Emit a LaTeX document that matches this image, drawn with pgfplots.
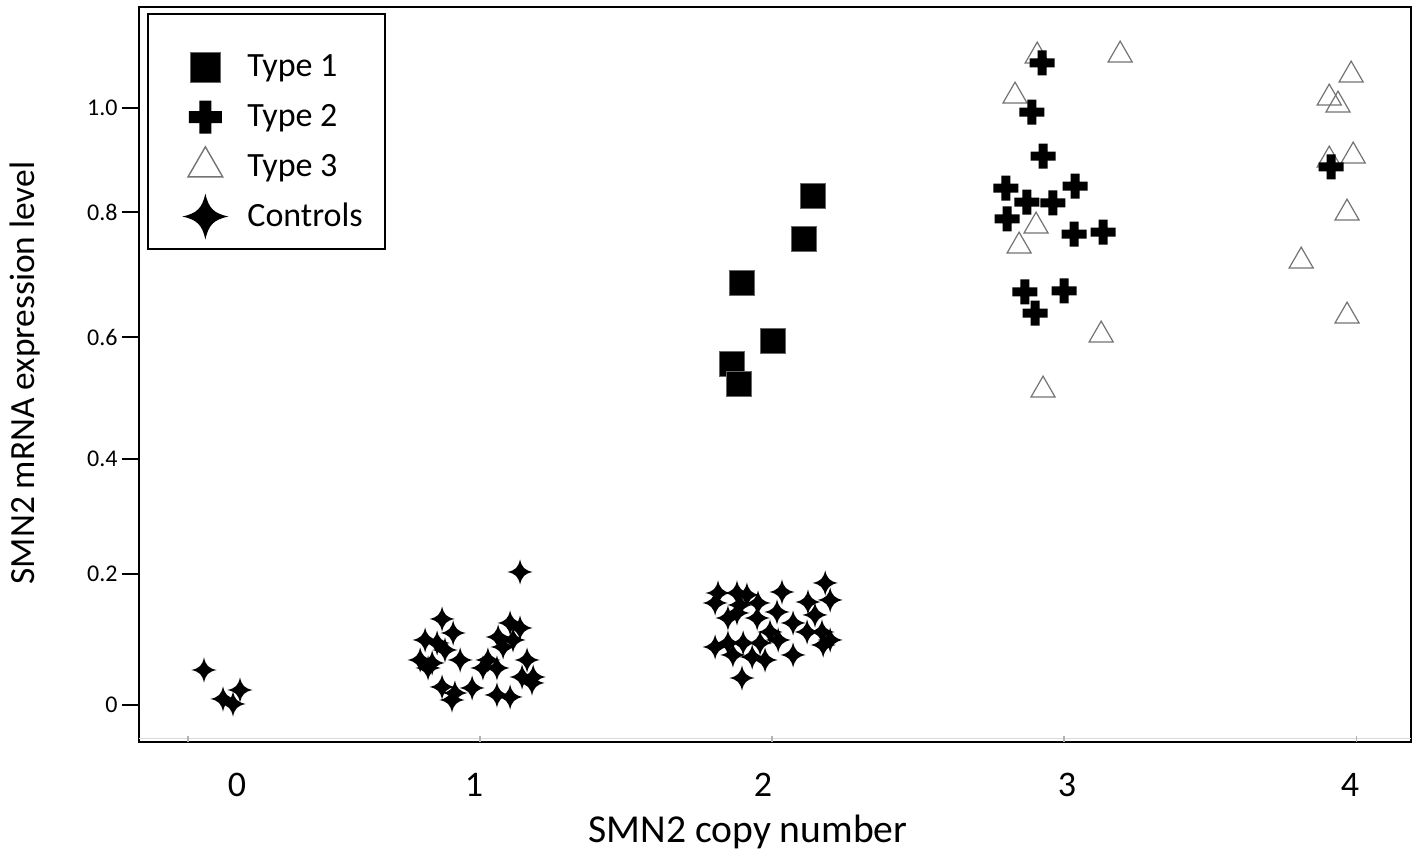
\documentclass[border=0pt]{standalone}
\usepackage{fontspec}
\setmainfont{Carlito}
\usepackage{pgfplots}
\pgfplotsset{compat=1.18}

% thick plus for Type 2
\pgfdeclareplotmark{fatplus}{%
  \pgfpathmoveto{\pgfqpoint{-0.36\pgfplotmarksize}{\pgfplotmarksize}}%
  \pgfpathlineto{\pgfqpoint{0.36\pgfplotmarksize}{\pgfplotmarksize}}%
  \pgfpathlineto{\pgfqpoint{0.36\pgfplotmarksize}{0.36\pgfplotmarksize}}%
  \pgfpathlineto{\pgfqpoint{\pgfplotmarksize}{0.36\pgfplotmarksize}}%
  \pgfpathlineto{\pgfqpoint{\pgfplotmarksize}{-0.36\pgfplotmarksize}}%
  \pgfpathlineto{\pgfqpoint{0.36\pgfplotmarksize}{-0.36\pgfplotmarksize}}%
  \pgfpathlineto{\pgfqpoint{0.36\pgfplotmarksize}{-\pgfplotmarksize}}%
  \pgfpathlineto{\pgfqpoint{-0.36\pgfplotmarksize}{-\pgfplotmarksize}}%
  \pgfpathlineto{\pgfqpoint{-0.36\pgfplotmarksize}{-0.36\pgfplotmarksize}}%
  \pgfpathlineto{\pgfqpoint{-\pgfplotmarksize}{-0.36\pgfplotmarksize}}%
  \pgfpathlineto{\pgfqpoint{-\pgfplotmarksize}{0.36\pgfplotmarksize}}%
  \pgfpathlineto{\pgfqpoint{-0.36\pgfplotmarksize}{0.36\pgfplotmarksize}}%
  \pgfpathclose
  \pgfusepathqfill}

% four pointed star for controls
\pgfdeclareplotmark{star4}{%
  \pgfpathmoveto{\pgfqpoint{0pt}{\pgfplotmarksize}}%
  \pgfpathcurveto{\pgfqpoint{0.14\pgfplotmarksize}{0.36\pgfplotmarksize}}{\pgfqpoint{0.36\pgfplotmarksize}{0.14\pgfplotmarksize}}{\pgfqpoint{\pgfplotmarksize}{0pt}}%
  \pgfpathcurveto{\pgfqpoint{0.36\pgfplotmarksize}{-0.14\pgfplotmarksize}}{\pgfqpoint{0.14\pgfplotmarksize}{-0.36\pgfplotmarksize}}{\pgfqpoint{0pt}{-\pgfplotmarksize}}%
  \pgfpathcurveto{\pgfqpoint{-0.14\pgfplotmarksize}{-0.36\pgfplotmarksize}}{\pgfqpoint{-0.36\pgfplotmarksize}{-0.14\pgfplotmarksize}}{\pgfqpoint{-\pgfplotmarksize}{0pt}}%
  \pgfpathcurveto{\pgfqpoint{-0.36\pgfplotmarksize}{0.14\pgfplotmarksize}}{\pgfqpoint{-0.14\pgfplotmarksize}{0.36\pgfplotmarksize}}{\pgfqpoint{0pt}{\pgfplotmarksize}}%
  \pgfpathclose
  \pgfusepathqfill}

\begin{document}
\begin{tikzpicture}
\begin{axis}[
  scale only axis, width=636pt, height=367.5pt,
  xmin=-0.1678, xmax=4.188, ymin=-0.062, ymax=1.1692,
  axis line style={line width=1.3pt},
  tick align=outside, major tick length=8.5pt,
  xtick={0.168,0.979,1.969,3.010,3.979}, xticklabels={0,1,2,3,4},
  xtick style={draw=none},
  ytick={0,0.2194,0.4121,0.6164,0.8258,1.0},
  yticklabels={0,0.2,0.4,0.6,0.8,1.0},
  ytick style={black, line width=0.8pt},
  ytick pos=left,
  yticklabel style={font=\fontsize{12}{14}\selectfont, inner xsep=2pt},
  xticklabel style={font=\fontsize{18}{20}\selectfont, inner ysep=0pt, yshift=-7pt},
  xlabel={SMN2 copy number},
  ylabel={SMN2 mRNA expression level},
  xlabel style={font=\fontsize{19.8}{24}\selectfont, at={(axis description cs:0.4788,0)}, anchor=base, yshift=-50pt},
  ylabel style={font=\fontsize{17.7}{22}\selectfont, at={(axis description cs:-0.0896,0.502)}, anchor=center},
  legend style={draw=none, fill=none, at={(axis description cs:0.0330,0.951)}, anchor=north west,
    inner sep=0pt, row sep=0.85pt, column sep=9pt, font=\fontsize{17}{20}\selectfont,
    nodes={inner sep=0pt}},
  legend cell align=left,
  legend image code/.code={\path[draw=none, fill=none] (-12pt,-12pt) rectangle (12pt,12pt); \draw[#1] plot coordinates {(0pt,0pt)};},
]
% Type 3 drawn first so that the plus marks lie over them
\addplot[only marks, mark=triangle, mark size=6.93pt, mark options={draw=black!55, line width=0.6pt, fill=none}, forget plot] coordinates {
 (2.908,1.0871) (3.192,1.0888) (2.832,1.0201) (2.904,0.8023) (2.846,0.7688)
 (3.127,0.6198) (2.928,0.5276) (3.983,1.0553) (3.908,1.0168) (3.938,1.0050)
 (3.908,0.9129) (3.990,0.9196) (3.969,0.8241) (3.812,0.7437) (3.969,0.6516)
};
% Type 1
\addplot[only marks, mark=square*, mark size=6.25pt, mark options={fill=black, draw=black!60, line width=0.4pt}, legend image post style={mark size=7.5pt}] coordinates {
 (2.140,0.8526) (2.110,0.7806) (1.897,0.7069) (2.003,0.6097) (1.863,0.5712) (1.887,0.5377)
};
\addlegendentry{Type 1}
% Type 2
\addplot[only marks, mark=fatplus, mark size=6.25pt, mark options={fill=black}, legend image post style={mark size=8.25pt}] coordinates {
 (2.925,1.0754) (2.890,0.9933) (2.928,0.9196) (2.801,0.8660) (3.038,0.8693)
 (2.873,0.8425) (2.962,0.8409) (2.805,0.8141) (3.034,0.7889) (3.134,0.7923)
 (2.866,0.6918) (3.000,0.6935) (2.901,0.6566) (3.914,0.9012)
};
\addlegendentry{Type 2}
\addlegendimage{only marks, mark=triangle, mark size=10pt, mark options={draw=black!55, line width=0.7pt, fill=none}}
\addlegendentry{Type 3}
% Controls
\addplot[only marks, mark=star4, mark size=6.3pt, mark options={fill=black}, legend image post style={mark size=11.5pt}] coordinates {
 (0.0548,0.0586) (0.1199,0.0101) (0.1541,0.0017) (0.1781,0.0251)
 (1.137,0.2228) (0.870,0.1441) (0.908,0.1206) (0.812,0.1089) (0.853,0.1039)
 (0.795,0.0754) (0.836,0.0704) (0.880,0.0921) (0.932,0.0754) (0.822,0.0620)
 (0.870,0.0302) (0.914,0.0201) (0.904,0.0084) (0.973,0.0285) (1.010,0.0620)
 (1.027,0.0754) (1.058,0.0620) (1.062,0.1139) (1.103,0.1374) (1.137,0.1290)
 (1.079,0.0972) (1.113,0.1089) (1.161,0.0754) (1.144,0.0469) (1.182,0.0469)
 (1.178,0.0369) (1.058,0.0168) (1.103,0.0134)
 (2.182,0.2044) (2.034,0.1893) (1.815,0.1876) (1.880,0.1876) (1.914,0.1843)
 (1.805,0.1709) (1.890,0.1675) (1.952,0.1709) (2.123,0.1725) (2.199,0.1759)
 (2.017,0.1558) (1.880,0.1541) (1.849,0.1457) (1.949,0.1457) (2.147,0.1508)
 (2.072,0.1374) (1.993,0.1223) (2.120,0.1223) (2.171,0.1223) (2.199,0.1089)
 (1.805,0.0972) (1.849,0.1039) (1.901,0.1039) (1.959,0.1039) (2.021,0.1089)
 (1.866,0.0838) (1.932,0.0804) (1.976,0.0754) (2.072,0.0838) (2.175,0.1005)
 (1.897,0.0452)
};
\addlegendentry{Controls}
% legend frame and faint bottom ticks
\draw[line width=1.3pt] (rel axis cs:0.00708,0.9905) rectangle (rel axis cs:0.1934,0.6707);
\draw[black!15, line width=0.8pt] (rel axis cs:0,0.005) -- (rel axis cs:1,0.005);
\draw[black!30, line width=0.6pt] (axis cs:0,-0.062) -- ++(0pt,3pt);
\draw[black!30, line width=0.6pt] (axis cs:1,-0.062) -- ++(0pt,3pt);
\draw[black!30, line width=0.6pt] (axis cs:2,-0.062) -- ++(0pt,3pt);
\draw[black!30, line width=0.6pt] (axis cs:3,-0.062) -- ++(0pt,3pt);
\draw[black!30, line width=0.6pt] (axis cs:4,-0.062) -- ++(0pt,3pt);
\end{axis}
\pgfresetboundingbox
\path ([shift={(-69.5pt,-55pt)}]current axis.south west) rectangle ([shift={(1.5pt,3.5pt)}]current axis.north east);
\end{tikzpicture}
\end{document}
